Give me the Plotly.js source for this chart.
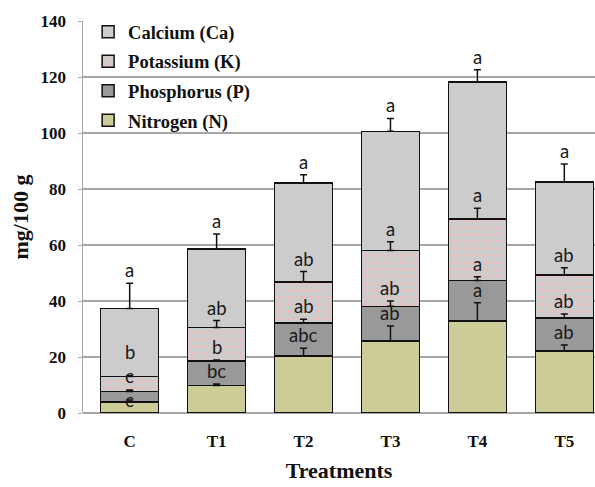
<!DOCTYPE html>
<html>
<head>
<meta charset="utf-8">
<script src="https://cdn.plot.ly/plotly-3.0.1.min.js"></script>
<style>html,body{margin:0;padding:0;background:#fff;}#chart{width:595px;height:487px;}</style>
</head>
<body>
<div id="chart"></div>
<script>
var categories = ["C", "T1", "T2", "T3", "T4", "T5"];

var nitrogen   = [4.0, 9.8, 20.4, 25.8, 32.9, 22.1];
var phosphorus = [3.7, 8.8, 11.7, 12.3, 14.4, 11.9];
var potassium  = [5.3, 11.9, 14.6, 19.9, 22.0, 15.3];
var calcium    = [24.3, 28.1, 35.4, 42.6, 49.0, 33.2];

var nitrogenErr   = [0.6, 0.6, 2.7, 5.3, 6.5, 2.2];
var phosphorusErr = [0.5, 0.3, 1.4, 1.9, 1.4, 1.4];
var potassiumErr  = [0.3, 2.5, 3.8, 3.2, 3.8, 2.6];
var calciumErr    = [9.0, 5.3, 3.0, 4.6, 4.3, 6.4];

var nitrogenLetters   = ["c", "bc", "abc", "ab", "a", "ab"];
var phosphorusLetters = ["c", "b", "ab", "ab", "a", "ab"];
var potassiumLetters  = ["b", "ab", "ab", "a", "a", "ab"];
var calciumLetters    = ["a", "a", "a", "a", "a", "a"];

var names = ["Nitrogen (N)", "Phosphorus (P)", "Potassium (K)", "Calcium (Ca)"];
var series = [nitrogen, phosphorus, potassium, calcium];
var errs = [nitrogenErr, phosphorusErr, potassiumErr, calciumErr];
var letters = [nitrogenLetters, phosphorusLetters, potassiumLetters, calciumLetters];
var fills = ["#cccc99", "#999999", "#cccccc", "#cccccc"];

var serif = "Liberation Serif";
var traces = [];
series.forEach(function (vals, i) {
  var m = {color: fills[i], line: {color: "#111", width: 1.5}};
  if (i === 2) {
    m.pattern = {shape: ".", fgcolor: "#f3bcbc", bgcolor: "#cccccc", size: 7, solidity: 0.2};
  }
  traces.push({
    type: "bar",
    name: names[i],
    x: categories,
    y: vals,
    width: 0.667,
    marker: m,
    legendgroup: "g" + i,
    legendrank: 10 - i
  });
});

// error bars drawn on top of every stacked segment
var cum = categories.map(function(){return 0;});
var naturalBase = categories.map(function(){return [];});
series.forEach(function (vals, i) {
  var tops = vals.map(function (v, j) { cum[j] += v; return cum[j]; });
  traces.push({
    type: "scatter", mode: "markers", x: categories, y: tops, showlegend: false, hoverinfo: "skip",
    marker: {size: 1, opacity: 0},
    error_y: {type: "data", array: errs[i], arrayminus: vals.map(function(){return 0;}), symmetric: false,
              color: "#111", thickness: 1.5, width: 3.5}
  });
  tops.forEach(function (t, j) { naturalBase[j].push(t + errs[i][j]); });
});

// letters sit above each error bar; crowded letters in a column are spread evenly around their mean
var labelGap = 8.6;
var annotations = [];
categories.forEach(function (cat, j) {
  var nat = naturalBase[j];
  var clusters = [];
  nat.forEach(function (v, k) {
    clusters.push({items: [k]});
    var recompute = function (c) {
      var s = 0;
      c.items.forEach(function (idx, n) { s += nat[idx] - n * labelGap; });
      c.first = s / c.items.length;
    };
    recompute(clusters[clusters.length - 1]);
    while (clusters.length > 1) {
      var cur = clusters[clusters.length - 1], prev = clusters[clusters.length - 2];
      if (prev.first + prev.items.length * labelGap > cur.first) {
        prev.items = prev.items.concat(cur.items);
        clusters.pop();
        recompute(prev);
      } else break;
    }
  });
  clusters.forEach(function (c) {
    c.items.forEach(function (idx, n) {
      annotations.push({x: cat, y: c.first + n * labelGap, text: letters[idx][j], showarrow: false,
        yanchor: "bottom", yshift: 1, borderpad: 0, font: {family: "Lato", size: 18.5, color: "#1a1a1a"}});
    });
  });
});

var layout = {
  width: 595, height: 487,
  margin: {l: 83, r: 0, t: 21, b: 74},
  paper_bgcolor: "#fff", plot_bgcolor: "#fff",
  barmode: "stack",
  showlegend: true,
  legend: {x: 0.01, y: 1.02, xanchor: "left", yanchor: "top", traceorder: "grouped", tracegroupgap: 2.5,
           itemwidth: 30, bgcolor: "rgba(0,0,0,0)",
           font: {family: serif, size: 18.5, color: "#111", weight: "bold"}},
  xaxis: {
    type: "category", range: [-0.537, 5.353], showgrid: false, showline: false, ticks: "",
    ticklabelstandoff: 16,
    tickfont: {family: serif, size: 17, color: "#111", weight: "bold"},
    title: {text: "Treatments", standoff: 12, font: {family: serif, size: 22, color: "#111", weight: "bold"}}
  },
  yaxis: {
    range: [0, 140], dtick: 20, showgrid: true, gridcolor: "#a6a6a6", gridwidth: 1.5,
    showline: true, linecolor: "#a6a6a6", linewidth: 1.5, ticks: "outside", ticklen: 4, tickcolor: "#a6a6a6",
    zeroline: true, zerolinecolor: "#a6a6a6", zerolinewidth: 1.5,
    ticklabelstandoff: 8,
    tickfont: {family: serif, size: 17, color: "#111", weight: "bold"},
    title: {text: "mg/100 g", standoff: 6, font: {family: serif, size: 22, color: "#111", weight: "bold"}}
  },
  annotations: annotations
};

Plotly.newPlot("chart", traces, layout, {displayModeBar: false, staticPlot: true});
</script>
</body>
</html>
